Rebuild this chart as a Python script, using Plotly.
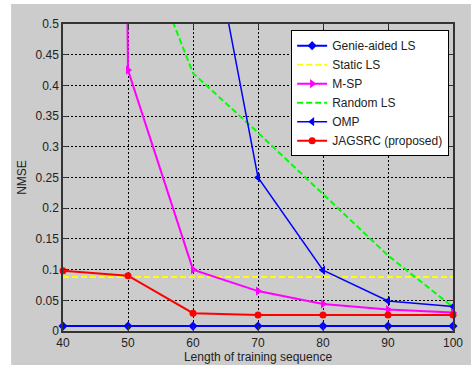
import plotly.graph_objects as go

x = [40, 50, 60, 70, 80, 90, 100]
genie_ls = [0.008, 0.008, 0.008, 0.008, 0.008, 0.008, 0.008]
static_ls = [0.088, 0.088, 0.088, 0.088, 0.088, 0.088, 0.088]
m_sp = [10.0, 0.425, 0.100, 0.065, 0.044, 0.035, 0.030]
random_ls = [1.0, 0.69, 0.42, 0.323, 0.223, 0.123, 0.039]
omp = [2.0, 1.3, 0.806, 0.25, 0.099, 0.049, 0.040]
jagsrc = [0.098, 0.090, 0.029, 0.026, 0.026, 0.026, 0.026]

yticks = [0, 0.05, 0.1, 0.15, 0.2, 0.25, 0.3, 0.35, 0.4, 0.45, 0.5]
ytick_text = ["0", "0.05", "0.1", "0.15", "0.2", "0.25", "0.3", "0.35", "0.4", "0.45", "0.5"]
xticks = [40, 50, 60, 70, 80, 90, 100]

FONT = "Liberation Sans, Arial"

fig = go.Figure()
fig.add_trace(go.Scatter(x=x, y=genie_ls, name="Genie-aided LS", mode="lines+markers",
                         line=dict(color="#0000ff", width=2),
                         marker=dict(symbol="diamond", size=7, color="#0000ff"), cliponaxis=False))
fig.add_trace(go.Scatter(x=x, y=static_ls, name="Static LS", mode="lines",
                         line=dict(color="#ffff00", width=2, dash="6px,3px")))
fig.add_trace(go.Scatter(x=x, y=m_sp, name="M-SP", mode="lines+markers",
                         line=dict(color="#ff00ff", width=2),
                         marker=dict(symbol="triangle-right", size=8, color="#ff00ff"), cliponaxis=False))
fig.add_trace(go.Scatter(x=x, y=random_ls, name="Random LS", mode="lines",
                         line=dict(color="#00ff00", width=2, dash="6px,3px")))
fig.add_trace(go.Scatter(x=x, y=omp, name="OMP", mode="lines+markers",
                         line=dict(color="#0000ff", width=1.5),
                         marker=dict(symbol="triangle-left", size=8, color="#0000ff"), cliponaxis=False))
fig.add_trace(go.Scatter(x=x, y=jagsrc, name="JAGSRC (proposed)", mode="lines+markers",
                         line=dict(color="#ff0000", width=2),
                         marker=dict(symbol="circle", size=7, color="#ff0000"), cliponaxis=False))

axis_common = dict(
    showline=True, linecolor="#333333", linewidth=1.5, mirror="ticks",
    ticks="inside", ticklen=5, tickcolor="#333333",
    showgrid=True, gridcolor="#000000", griddash="2px,2px", gridwidth=1,
    zeroline=False, automargin=False,
    tickfont=dict(family=FONT, size=12, color="#222222"),
)

fig.update_xaxes(range=[40, 100], tickvals=xticks, **axis_common,
                 title=dict(text="Length of training sequence", standoff=2,
                            font=dict(family=FONT, size=12, color="#222222")))
fig.update_yaxes(range=[0, 0.5], tickvals=yticks, ticktext=ytick_text, **axis_common,
                 title=dict(text="NMSE", standoff=6,
                            font=dict(family=FONT, size=12, color="#222222")))

fig.add_shape(type="rect", xref="paper", yref="paper",
              x0=-0.133, x1=1.046, y0=-0.12, y1=1.065,
              fillcolor="#cccccc", line=dict(width=0), layer="below")

fig.update_layout(
    template="none",
    width=473, height=365,
    margin=dict(l=63, r=20, t=24, b=34, autoexpand=False),
    paper_bgcolor="#ffffff", plot_bgcolor="#ffffff",
    showlegend=True,
    legend=dict(x=0.585, y=0.98, xanchor="left", yanchor="top",
                bgcolor="#ffffff", bordercolor="#000000", borderwidth=1,
                font=dict(family=FONT, size=12, color="#222222"),
                tracegroupgap=0, itemwidth=30),
    font=dict(family=FONT, size=12),
)

fig.write_html("out.html",
               config={"displayModeBar": False},
               post_script="document.body.style.margin='0';document.body.style.overflow='hidden';")
